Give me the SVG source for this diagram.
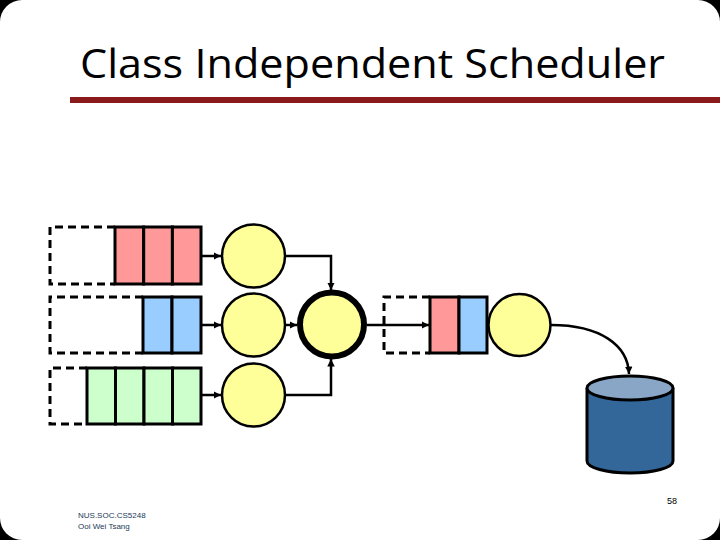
<svg xmlns="http://www.w3.org/2000/svg" width="720" height="540" viewBox="0 0 720 540">
<defs>
<style>
.dash{fill:none;stroke:#000;stroke-width:3;stroke-dasharray:8,5}
.q{stroke:#000;stroke-width:3}
.srv{fill:#ffff99;stroke:#000;stroke-width:2.5}
.ln{fill:none;stroke:#000;stroke-width:2.5}
.foot{font-family:"Liberation Sans",Arial,sans-serif;font-size:8px;fill:#1a3a5a}
</style>
<marker id="ah" viewBox="0 0 10 10" refX="10" refY="5" markerWidth="3" markerHeight="3" orient="auto" markerUnits="strokeWidth">
<path d="M0,0 L10,5 L0,10 z" fill="#000"/>
</marker>
</defs>
<rect x="0" y="0" width="720" height="540" fill="#000"/>
<rect x="0" y="0" width="720" height="540" rx="22" ry="22" fill="#fff"/>
<text x="80" y="78" font-family="'Open Sans','DejaVu Sans',sans-serif" font-size="40" textLength="585" lengthAdjust="spacingAndGlyphs" fill="#000">Class Independent Scheduler</text>
<rect x="70" y="97" width="650" height="6" fill="#8b1a1a"/>

<g id="queue1">
<path class="dash" d="M115,227 H50 V284 H115"/>
<rect class="q" x="115" y="227" width="28.7" height="57" fill="#ff9999"/>
<rect class="q" x="143.7" y="227" width="28.7" height="57" fill="#ff9999"/>
<rect class="q" x="172.4" y="227" width="28.6" height="57" fill="#ff9999"/>
</g>
<g id="queue2">
<path class="dash" d="M143,297 H50 V353 H143"/>
<rect class="q" x="143" y="297" width="29" height="56" fill="#99ccff"/>
<rect class="q" x="172" y="297" width="29" height="56" fill="#99ccff"/>
</g>
<g id="queue3">
<path class="dash" d="M87,368 H50 V424 H87"/>
<rect class="q" x="87" y="368" width="28.5" height="56" fill="#ccffcc"/>
<rect class="q" x="115.5" y="368" width="28.5" height="56" fill="#ccffcc"/>
<rect class="q" x="144" y="368" width="28.5" height="56" fill="#ccffcc"/>
<rect class="q" x="172.5" y="368" width="28.5" height="56" fill="#ccffcc"/>
</g>
<g id="server1"><circle class="srv" cx="253.5" cy="256" r="31.5"/></g>
<g id="server2"><circle class="srv" cx="253.5" cy="325" r="31.5"/></g>
<g id="server3"><circle class="srv" cx="253.5" cy="395" r="31.5"/></g>
<g id="scheduler"><circle cx="332" cy="324.5" r="32" fill="#ffff99" stroke="#000" stroke-width="6"/></g>
<g id="outqueue">
<path class="dash" d="M430,297 H384 V353 H430"/>
<rect class="q" x="430" y="297" width="29" height="56" fill="#ff9999"/>
<rect class="q" x="459" y="297" width="28" height="56" fill="#99ccff"/>
</g>
<g id="outserver"><circle class="srv" cx="519.5" cy="325" r="31"/></g>
<g id="disk">
<path d="M587,388 V461 A43,12 0 0 0 673,461 V388" fill="#336699" stroke="#000" stroke-width="3"/>
<ellipse cx="630" cy="388" rx="43" ry="12" fill="#8aa6c6" stroke="#000" stroke-width="3"/>
</g>

<g id="connectors">
<path class="ln" d="M201,256 H221" marker-end="url(#ah)"/>
<path class="ln" d="M201,325 H221" marker-end="url(#ah)"/>
<path class="ln" d="M201,395 H221" marker-end="url(#ah)"/>
<path class="ln" d="M285,256 H331 V290" marker-end="url(#ah)"/>
<path class="ln" d="M285,395 H331 V359" marker-end="url(#ah)"/>
<path class="ln" d="M285,325 H297" marker-end="url(#ah)"/>
<path class="ln" d="M367,325 H429" marker-end="url(#ah)"/>
<path class="ln" d="M551,325 C600,325 628,345 629,374" marker-end="url(#ah)"/>
</g>

<text x="667" y="504" font-family="'Liberation Sans',Arial,sans-serif" font-size="9" fill="#000">58</text>
<text class="foot" x="78" y="518">NUS.SOC.CS5248</text>
<text class="foot" x="78" y="529">Ooi Wei Tsang</text>
</svg>
